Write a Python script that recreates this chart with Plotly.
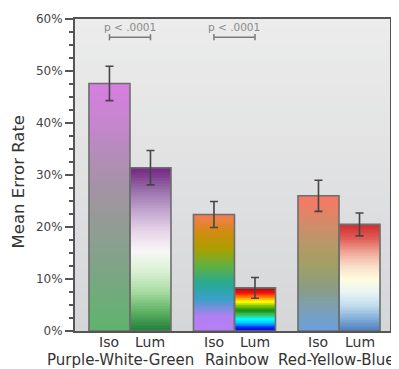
import plotly.graph_objects as go

# ---- data ----
groups = ["Purple-White-Green", "Rainbow", "Red-Yellow-Blue"]
conditions = ["Iso", "Lum"]
iso_mean = [0.476, 0.224, 0.260]
iso_err = [0.033, 0.025, 0.030]
lum_mean = [0.314, 0.083, 0.205]
lum_err = [0.033, 0.020, 0.022]
sig_groups = [0, 1]
sig_text = "p < .0001"
y_title = "Mean Error Rate"

# ---- colormaps (top -> bottom of bar) ----
cmaps_iso = [
    ["#d67fe0", "#c386cb", "#ad8fb0", "#9a989a", "#87a18c", "#72aa7c", "#5db56b"],
    ["#f47c50", "#d08c10", "#aaa000", "#60b040", "#28aa90", "#3aa0c8", "#b080f0", "#b87ef8"],
    ["#f87862", "#d88868", "#b89868", "#a0a064", "#8c9c84", "#7aa0b8", "#6aa0e0"],
]
cmaps_lum = [
    ["#762a83", "#9970ab", "#c2a5cf", "#e7d4e8", "#f7f7f7", "#d9f0d3", "#a6dba0", "#5aae61", "#1b7837"],
    ["#b01010", "#ff1010", "#ff9000", "#ffff00", "#80c000", "#109010", "#40c060", "#00ffff",
     "#00c0ff", "#0020ff", "#2000a0"],
    ["#d43030", "#e06058", "#f0a898", "#f8dcc8", "#fffde0", "#e8f4f4", "#c0dcec", "#80acd8", "#4878b8"],
]

N = 60
BARGAP = 0.215
FONT = "DejaVu Sans"
GROUP_LABEL_SHIFT = [-9, 3, -3]  # px nudges so the long labels do not collide


def hex2rgb(h):
    h = h.lstrip("#")
    return tuple(int(h[i:i + 2], 16) for i in (0, 2, 4))


def cmap_at(stops, t):
    # t: 0 = top, 1 = bottom
    n = len(stops) - 1
    p = t * n
    i = min(int(p), n - 1)
    f = p - i
    a, b = hex2rgb(stops[i]), hex2rgb(stops[i + 1])
    c = [round(a[k] + (b[k] - a[k]) * f) for k in range(3)]
    return "rgb(%d,%d,%d)" % tuple(c)


fig = go.Figure()

for cond, means, cmaps in (("Iso", iso_mean, cmaps_iso), ("Lum", lum_mean, cmaps_lum)):
    for k in range(N):
        t = 1 - (k + 0.5) / N  # bottom segment first
        bases = [max(0.0, m * (k - 0.8) / N) for m in means]
        tops = [m * (k + 1) / N for m in means]
        fig.add_trace(go.Bar(
            x=groups,
            y=[tp - b for tp, b in zip(tops, bases)],
            base=bases,
            offsetgroup=cond,
            marker=dict(color=[cmap_at(c, t) for c in cmaps], line=dict(width=0)),
            showlegend=False, hoverinfo="skip",
        ))

# outlines + error bars
for cond, means, errs in (("Iso", iso_mean, iso_err), ("Lum", lum_mean, lum_err)):
    fig.add_trace(go.Bar(
        x=groups, y=means, offsetgroup=cond, name=cond,
        marker=dict(color="rgba(0,0,0,0)", line=dict(color="#6e6e6e", width=1.6)),
        error_y=dict(type="data", array=errs, color="#454545", thickness=1.6, width=4),
        showlegend=False,
    ))

# background gradient
shapes = []
S = 40
top_c, bot_c = hex2rgb("#ececec"), hex2rgb("#d5d6d8")
for i in range(S):
    f = (i + 0.5) / S
    c = [round(top_c[k] + (bot_c[k] - top_c[k]) * f) for k in range(3)]
    shapes.append(dict(type="rect", xref="x domain", yref="y domain",
                       x0=0, x1=1, y0=1 - (i + 1) / S - 0.003, y1=1 - i / S,
                       fillcolor="rgb(%d,%d,%d)" % tuple(c), line=dict(width=0), layer="below"))

half = (1 - BARGAP) / 4
annotations = []
for g in sig_groups:
    x0, x1 = g - half, g + half
    yb = 0.565
    shapes.append(dict(type="line", xref="x", yref="y", x0=x0, x1=x1, y0=yb, y1=yb,
                       line=dict(color="#7a7a7a", width=1.5)))
    for xx in (x0, x1):
        shapes.append(dict(type="line", xref="x", yref="y", x0=xx, x1=xx, y0=yb - 0.006, y1=yb + 0.006,
                           line=dict(color="#7a7a7a", width=1.5)))
    annotations.append(dict(x=g, y=yb, xref="x", yref="y", text=sig_text, showarrow=False,
                            yanchor="bottom", yshift=2,
                            font=dict(size=10.5, color="#8a8a8a")))

for g, gname in enumerate(groups):
    for j, cond in enumerate(conditions):
        annotations.append(dict(x=g + (-half if j == 0 else half), y=0, xref="x", yref="paper",
                                text=cond, showarrow=False, yanchor="top", yshift=-1,
                                font=dict(size=14, color="#333333")))
    annotations.append(dict(x=g, y=0, xref="x", yref="paper", text=gname, showarrow=False,
                            yanchor="middle", yshift=-29, xshift=GROUP_LABEL_SHIFT[g],
                            font=dict(size=15, color="#333333")))

annotations.append(dict(x=-0.179, y=0.478, xref="paper", yref="paper", text=y_title,
                        textangle=-90, showarrow=False, xanchor="center", yanchor="middle",
                        font=dict(size=16.5, color="#333333")))

# the page places the figure 8px from the top-left corner, so margins are shifted by 8px
fig.update_layout(
    width=399, height=369,
    margin=dict(l=67, r=17, t=11, b=46, autoexpand=False),
    paper_bgcolor="white", plot_bgcolor="#e0e0e0",
    font=dict(family=FONT, color="#333333"),
    barmode="group", bargap=BARGAP, bargroupgap=0,
    shapes=shapes, annotations=annotations,
    xaxis=dict(range=[-0.526, 2.488], showline=True, mirror=True, linecolor="#555555", linewidth=2,
               ticks="", showgrid=False, showticklabels=False, automargin=False),
    yaxis=dict(range=[0, 0.6], tickformat=".0%", dtick=0.1, showline=True, mirror=True,
               linecolor="#555555", linewidth=2, ticks="outside", ticklen=8, tickwidth=1.5,
               tickcolor="#555555", showgrid=False, zeroline=False, automargin=False,
               tickfont=dict(size=12, color="#444444"),
               minor=dict(dtick=0.025, ticks="outside", ticklen=4, tickwidth=1.5, tickcolor="#555555",
                          showgrid=False)),
)

fig.write_html("out.html")
